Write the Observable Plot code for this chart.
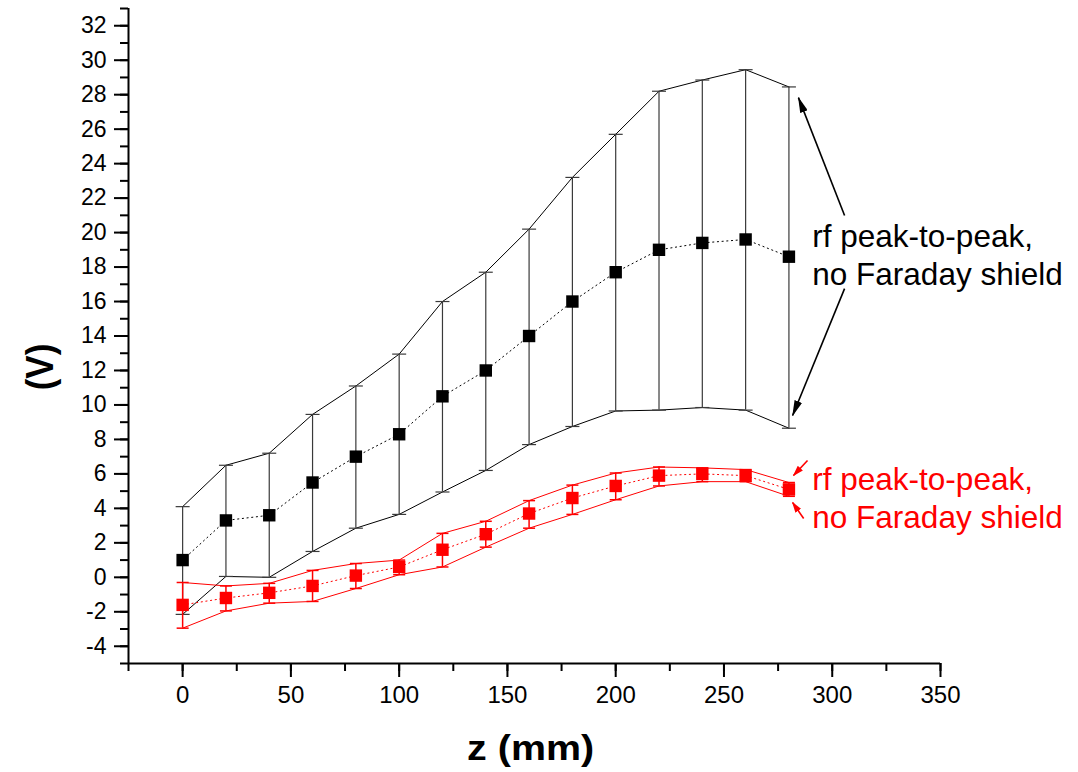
<!DOCTYPE html>
<html>
<head>
<meta charset="utf-8">
<script src="https://cdn.jsdelivr.net/npm/d3@7"></script>
<script src="https://cdn.jsdelivr.net/npm/@observablehq/plot@0.6"></script>
<style>
  body { margin: 0; background: #fff; }
</style>
</head>
<body>
<div id="chart"></div>
<script>
// Axial position of each measurement (mm)
const zPositions = [0, 20, 40, 60, 80, 100, 120, 140, 160, 180, 200, 220, 240, 260, 280];

// rf peak-to-peak, no Faraday shield (black): mean with upper / lower envelope (V)
const blackMean  = [1.0, 3.3, 3.6, 5.5, 7.0, 8.3, 10.5, 12.0, 14.0, 16.0, 17.7, 19.0, 19.4, 19.6, 18.6];
const blackUpper = [4.1, 6.5, 7.2, 9.45, 11.1, 12.95, 16.0, 17.7, 20.2, 23.2, 25.7, 28.2, 28.85, 29.45, 28.45];
const blackLower = [-2.15, 0.05, 0.0, 1.5, 2.85, 3.65, 4.95, 6.2, 7.7, 8.75, 9.65, 9.7, 9.85, 9.7, 8.65];

// rf peak-to-peak, no Faraday shield (red): mean with upper / lower envelope (V)
const redMean  = [-1.6, -1.2, -0.9, -0.5, 0.1, 0.6, 1.6, 2.5, 3.7, 4.6, 5.3, 5.9, 6.0, 5.9, 5.1];
const redUpper = [-0.3, -0.5, -0.35, 0.4, 0.8, 1.0, 2.55, 3.25, 4.45, 5.35, 6.05, 6.4, 6.35, 6.25, 5.5];
const redLower = [-2.95, -1.95, -1.5, -1.4, -0.65, 0.15, 0.6, 1.75, 2.85, 3.65, 4.5, 5.3, 5.55, 5.55, 4.7];

// Axis ticks
const xTicks = [0, 50, 100, 150, 200, 250, 300, 350];
const xMinorTicks = [-25, 0, 25, 50, 75, 100, 125, 150, 175, 200, 225, 250, 275, 300, 325, 350];
const yTicks = [-4, -2, 0, 2, 4, 6, 8, 10, 12, 14, 16, 18, 20, 22, 24, 26, 28, 30, 32];
const yMinorTicks = d3.range(-5, 34, 1);

// Annotation labels and their pointer arrows (data coordinates)
const labelText = "rf peak-to-peak,\nno Faraday shield";
const labels = [
  {x: 290.8, y: 18.78, text: labelText, color: "#000000"},
  {x: 290.8, y: 4.66, text: labelText, color: "#ff0000"}
];
const pointers = [
  {x1: 305.7, y1: 20.99, x2: 284.4, y2: 27.83, color: "#000000"},
  {x1: 305.7, y1: 16.75, x2: 281.7, y2: 9.39, color: "#000000"},
  {x1: 288.6, y1: 6.78, x2: 282.1, y2: 5.91, color: "#ff0000"},
  {x1: 286.8, y1: 3.41, x2: 281.7, y2: 4.34, color: "#ff0000"}
];

// Axis titles, anchored in data coordinates
const xTitle = [{x: 160.7, y: -5, text: "z (mm)"}];
const yTitle = [{x: -25, y: 12.2, text: "(V)"}];

const black = zPositions.map((z, i) => ({z, mean: blackMean[i], hi: blackUpper[i], lo: blackLower[i]}));
const red = zPositions.map((z, i) => ({z, mean: redMean[i], hi: redUpper[i], lo: redLower[i]}));

// Horizontal cap symbol for the error bars
const capSymbol = {
  draw(context, size) {
    const w = Math.sqrt(size / Math.PI);
    context.moveTo(-w, 0);
    context.lineTo(w, 0);
  }
};

// Filled, narrow arrowhead
function arrowHead(len, half) {
  return (color) => d3.create("svg:marker")
    .attr("viewBox", `${-len} ${-half} ${len + 1} ${2 * half}`)
    .attr("markerWidth", len + 1)
    .attr("markerHeight", 2 * half)
    .attr("markerUnits", "userSpaceOnUse")
    .attr("orient", "auto")
    .attr("fill", color)
    .attr("stroke", "none")
    .call((m) => m.append("path").attr("d", `M${-len},${-half}L1,0L${-len},${half}Z`))
    .node();
}

const font = "'Liberation Sans', Arial, Helvetica, sans-serif";

function series(data, color, opts) {
  return [
    Plot.line(data, {x: "z", y: "hi", stroke: color, strokeWidth: 1}),
    Plot.line(data, {x: "z", y: "lo", stroke: color, strokeWidth: 1}),
    Plot.line(data, {x: "z", y: "mean", stroke: color, strokeWidth: 1, strokeDasharray: "1.2,3.5"}),
    Plot.ruleX(data, {x: "z", y1: "lo", y2: "hi", stroke: opts.barColor, strokeWidth: opts.barWidth}),
    Plot.dot(data, {x: "z", y: "hi", symbol: capSymbol, r: opts.cap, stroke: opts.barColor, strokeWidth: opts.barWidth, fill: "none"}),
    Plot.dot(data, {x: "z", y: "lo", symbol: capSymbol, r: opts.cap, stroke: opts.barColor, strokeWidth: opts.barWidth, fill: "none"}),
    Plot.dot(data, {x: "z", y: "mean", symbol: "square", r: 7, fill: color, stroke: "none"})
  ];
}

const chart = Plot.plot({
  width: 1078,
  height: 772,
  marginLeft: 128,
  marginRight: 138,
  marginTop: 8,
  marginBottom: 109,
  x: {domain: [-25, 350]},
  y: {domain: [-5, 33]},
  style: {fontFamily: font, color: "#000", background: "#fff", overflow: "visible"},
  marks: [
    Plot.axisY({ticks: yMinorTicks, tickSize: 8, strokeWidth: 2, tickFormat: () => "", label: null}),
    Plot.axisY({ticks: yTicks, tickSize: 14, tickPadding: 8, strokeWidth: 2, fontSize: 23, tickFormat: (d) => String(d), label: null}),
    Plot.axisX({ticks: xMinorTicks, tickSize: 8, strokeWidth: 2, tickFormat: () => "", label: null}),
    Plot.axisX({ticks: xTicks, tickSize: 14, tickPadding: 8, strokeWidth: 2, fontSize: 24, tickFormat: (d) => String(d), label: null}),
    Plot.ruleX([-25], {strokeWidth: 2}),
    Plot.ruleY([-5], {strokeWidth: 2}),

    ...series(black, "#000000", {barColor: "#3a3a3a", barWidth: 1.2, cap: 7}),
    ...series(red, "#ff0000", {barColor: "#ff0000", barWidth: 1.5, cap: 6}),

    Plot.link(pointers.filter((d) => d.color === "#000000"), {
      x1: "x1", y1: "y1", x2: "x2", y2: "y2", stroke: "#000000", strokeWidth: 1.6,
      markerEnd: arrowHead(15, 4)
    }),
    Plot.link(pointers.filter((d) => d.color === "#ff0000"), {
      x1: "x1", y1: "y1", x2: "x2", y2: "y2", stroke: "#ff0000", strokeWidth: 1.6,
      markerEnd: arrowHead(10, 3.5)
    }),

    Plot.text(labels, {
      x: "x", y: "y", text: "text", fill: "color", textAnchor: "start",
      lineAnchor: "middle", lineHeight: 1.2, fontSize: 31.5
    }),

    // Axis titles
    Plot.text(xTitle, {
      x: "x", y: "y", text: "text", dy: 85, lineAnchor: "middle",
      fontSize: 35, fontWeight: "bold"
    }),
    Plot.text(yTitle, {
      x: "x", y: "y", text: "text", dx: -88, rotate: -90, lineAnchor: "middle",
      fontSize: 35, fontWeight: "bold"
    })
  ]
});

// Stretch the axis titles to their printed proportions
const texts = d3.select(chart).selectAll("text");
texts.filter(function () { return this.textContent === "z (mm)"; })
  .attr("textLength", 127).attr("lengthAdjust", "spacingAndGlyphs");
texts.filter(function () { return this.textContent === "(V)"; })
  .attr("transform", function () { return (this.getAttribute("transform") || "") + " scale(1,1.1)"; });

document.getElementById("chart").appendChild(chart);
</script>
</body>
</html>
